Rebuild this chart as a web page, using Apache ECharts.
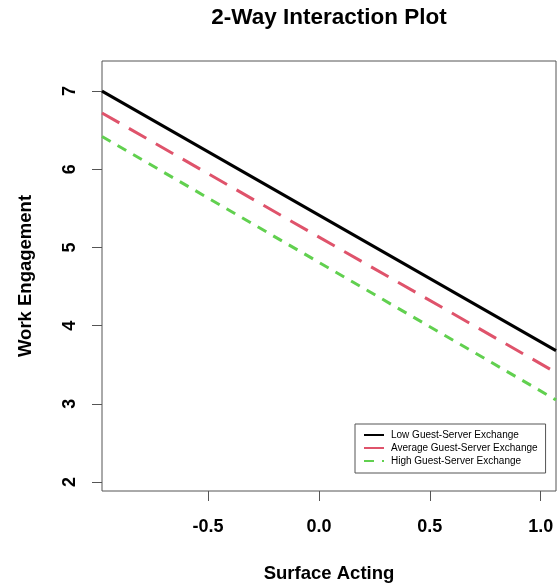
<!DOCTYPE html>
<html>
<head>
<meta charset="utf-8">
<script src="https://cdn.jsdelivr.net/npm/echarts@6/dist/echarts.min.js"></script>
<style>
html, body { margin: 0; padding: 0; background: #fff; }
#main { width: 558px; height: 585px; }
</style>
</head>
<body>
<div id="main"></div>
<script>
// x where the fitted lines start / end (edges of the plot region)
var xEnds = [-0.978, 1.069];
var lowVals = [7.0, 3.68];
var avgVals = [6.72, 3.40];
var highVals = [6.42, 3.05];
var seriesNames = ['Low Guest-Server Exchange', 'Average Guest-Server Exchange', 'High Guest-Server Exchange'];
var xTicks = [-0.5, 0.0, 0.5, 1.0];
var yTicks = [2, 3, 4, 5, 6, 7];

function toPairs(ys){
	var out = [];
	for(var i=0;i<xEnds.length;i++){
		out.push([xEnds[i], ys[i]]);
	}
	return out;
}

var fontFam = '"Liberation Sans", Arial, sans-serif';
var dom = document.getElementById('main');
var myChart = echarts.init(dom);
var option = {
	animation: false,
	title: {
		text: '2-Way Interaction Plot',
		left: 324,
		top: 1,
		textAlign: 'center',
		textStyle: { fontFamily: fontFam, fontSize: 22.5, fontWeight: 'bold', color: '#000' }
	},
	grid: {
		left: 102, right: 2, top: 61, bottom: 94,
		outerBoundsMode: 'none',
		show: true, borderColor: '#555', borderWidth: 1, backgroundColor: 'transparent'
	},
	legend: {
		orient: 'vertical',
		left: 355, top: 424,
		width: 186,
		padding: [6, 8, 7, 8],
		itemGap: 3,
		itemWidth: 20, itemHeight: 11,
		borderColor: '#555', borderWidth: 1, borderRadius: 0,
		backgroundColor: '#fff',
		itemStyle: { opacity: 0 },
		textStyle: { fontFamily: fontFam, fontSize: 10, color: '#000', padding: [0, 0, 0, 2] },
		data: seriesNames
	},
	xAxis: {
		type: 'value',
		min: xEnds[0], max: xEnds[1],
		name: 'Surface Acting',
		nameLocation: 'middle',
		nameGap: 73,
		nameTextStyle: { fontFamily: fontFam, fontSize: 18.5, fontWeight: 'bold', color: '#000' },
		axisLine: { show: false, onZero: false },
		splitLine: { show: false },
		axisTick: { show: true, length: 10, lineStyle: { color: '#555' }, customValues: xTicks },
		axisLabel: {
			fontFamily: fontFam, fontSize: 18, fontWeight: 'bold', color: '#000', margin: 27,
			customValues: xTicks,
			formatter: function(v){ return v.toFixed(1); }
		}
	},
	yAxis: {
		type: 'value',
		min: 1.885, max: 7.385,
		name: 'Work Engagement',
		nameLocation: 'middle',
		nameGap: 67,
		nameTextStyle: { fontFamily: fontFam, fontSize: 18.5, fontWeight: 'bold', color: '#000' },
		axisLine: { show: false, onZero: false },
		splitLine: { show: false },
		axisTick: { show: true, length: 10, lineStyle: { color: '#555' }, customValues: yTicks },
		axisLabel: {
			fontFamily: fontFam, fontSize: 18, fontWeight: 'bold', color: '#000', margin: 23,
			rotate: 90,
			customValues: yTicks
		}
	},
	series: [
		{
			name: seriesNames[0], type: 'line', data: toPairs(lowVals), symbol: 'none',
			lineStyle: { color: '#000', width: 3, type: 'solid' },
			itemStyle: { color: '#000' }
		},
		{
			name: seriesNames[1], type: 'line', data: toPairs(avgVals), symbol: 'none',
			lineStyle: { color: '#DF536B', width: 3, type: [20, 11] },
			itemStyle: { color: '#DF536B' }
		},
		{
			name: seriesNames[2], type: 'line', data: toPairs(highVals), symbol: 'none',
			lineStyle: { color: '#61D04F', width: 3, type: [10, 8] },
			itemStyle: { color: '#61D04F' }
		}
	]
};
myChart.setOption(option, true);
</script>
</body>
</html>
